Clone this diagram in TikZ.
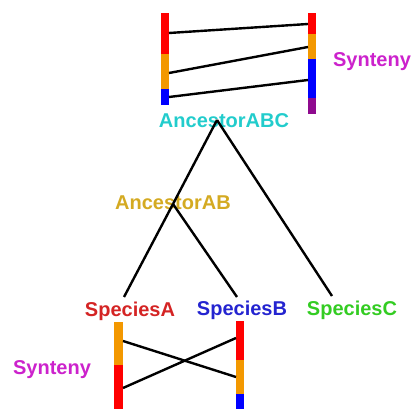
\documentclass[tikz,border=0pt]{standalone}
\usepackage{fontspec}
\setmainfont{Liberation Sans}
\definecolor{cRed}{HTML}{FF0000}
\definecolor{cOrange}{HTML}{F39800}
\definecolor{cBlue}{HTML}{0000FF}
\definecolor{cPurple}{HTML}{8E0A8E}
\definecolor{tRed}{HTML}{D42424}
\definecolor{tBlue}{HTML}{2424D0}
\definecolor{tGreen}{HTML}{33CC22}
\definecolor{tCyan}{HTML}{22CCCC}
\definecolor{tGold}{HTML}{D4AA22}
\definecolor{tMag}{HTML}{CC22CC}
\begin{document}
\begin{tikzpicture}[x=1pt,y=-1pt,
  lbl/.style={font=\fontsize{20}{22}\selectfont\bfseries, inner sep=0pt, anchor=center},
  link/.style={line width=2.4pt, black},
  seg/.style={draw=none}]
\useasboundingbox (0,0) rectangle (413,409);
% top bars
\fill[cRed] (161,13) rectangle (169,54);
\fill[cOrange] (161,54) rectangle (169,89);
\fill[cBlue] (161,89) rectangle (169,105);
\fill[cRed] (308,13) rectangle (316,34);
\fill[cOrange] (308,34) rectangle (316,59);
\fill[cBlue] (308,59) rectangle (316,98);
\fill[cPurple] (308,98) rectangle (316,114);
\coordinate (L1) at (169,33); \coordinate (R1) at (308,24);
\coordinate (L2) at (169,73); \coordinate (R2) at (308,47);
\coordinate (L3) at (169,97); \coordinate (R3) at (308,80);
\draw[link] (L1) -- (R1);
\draw[link] (L2) -- (R2);
\draw[link] (L3) -- (R3);
% bottom bars
\fill[cOrange] (114,322) rectangle (123,365);
\fill[cRed] (114,365) rectangle (123,409);
\fill[cRed] (236,321) rectangle (244,360);
\fill[cOrange] (236,360) rectangle (244,394);
\fill[cBlue] (236,394) rectangle (244,409);
\coordinate (a1) at (123,341); \coordinate (b1) at (236,377);
\coordinate (a2) at (123,388); \coordinate (b2) at (236,338);
\draw[link] (a1) -- (b1);
\draw[link] (a2) -- (b2);
% labels
\node[lbl, text=tMag] (syn1) at (372,62) {Synteny};
\node[lbl, text=tMag] (syn2) at (52,370) {Synteny};
\node[lbl, text=tCyan] (abc) at (224,121) {AncestorABC};
\node[lbl, text=tGold] (ab) at (173,203) {AncestorAB};
\node[lbl, text=tRed] (sa) at (130,311) {SpeciesA};
\node[lbl, text=tBlue] (sb) at (242,310) {SpeciesB};
\node[lbl, text=tGreen] (sc) at (352,310) {SpeciesC};
% tree
\coordinate (abcT) at (217,120);
\coordinate (abT) at (173,204);
\coordinate (saT) at (124,297);
\coordinate (sbT) at (237,297);
\coordinate (scT) at (332,296);
\draw[link] (abcT) -- (abT);
\draw[link] (abcT) -- (scT);
\draw[link] (abT) -- (saT);
\draw[link] (abT) -- (sbT);
\end{tikzpicture}
\end{document}
